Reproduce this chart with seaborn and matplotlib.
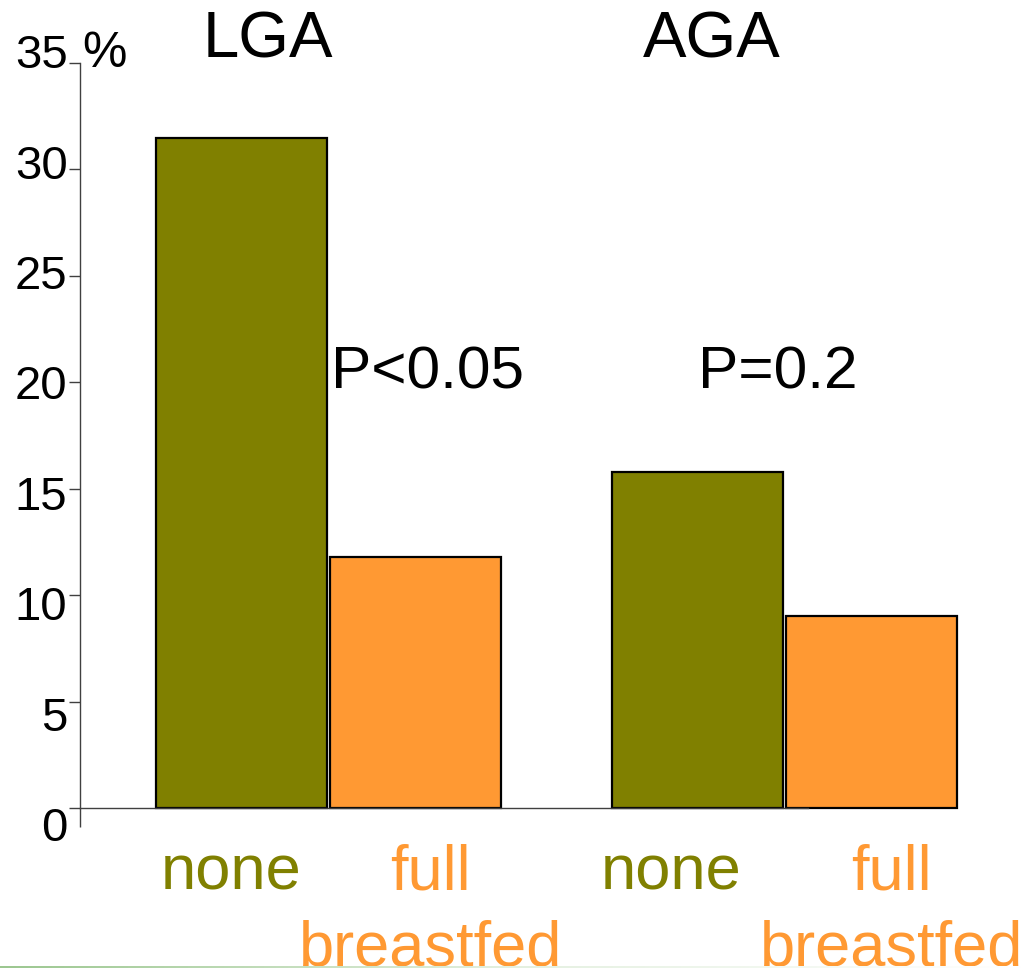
import numpy as np
import pandas as pd
import matplotlib
matplotlib.use("Agg")
import matplotlib.pyplot as plt
from matplotlib.transforms import ScaledTranslation
import seaborn as sns

# Share of infants (%) by birth-size group and feeding
groups = ["LGA", "LGA", "AGA", "AGA"]
feeding = ["none", "full", "none", "full"]
percent = [31.5, 11.8, 15.8, 9.0]

group_order = ["LGA", "AGA"]
p_values = ["P<0.05", "P=0.2"]
feeding_labels = {"none": ["none"], "full": ["full", "breastfed"]}
y_ticks = [0, 5, 10, 15, 20, 25, 30, 35]

OLIVE = "#808000"
ORANGE = "#FF9933"
AXIS_GREY = "#404040"

sns.set_theme(style="white")
plt.rcParams["font.family"] = ["Liberation Sans", "DejaVu Sans"]
plt.rcParams["text.color"] = "black"

df = pd.DataFrame({"group": groups, "feeding": feeding, "pct": percent})

fig = plt.figure(figsize=(10.25, 9.68), dpi=100)
ax = fig.add_axes([80 / 1025, 160 / 968, 728 / 1025, 745 / 968])

sns.barplot(data=df, x="group", y="pct", hue="feeding", order=group_order,
            hue_order=["none", "full"],
            palette={"none": OLIVE, "full": ORANGE},
            width=0.76, gap=0.013, edgecolor="black", linewidth=1.6,
            saturation=1, legend=False, ax=ax)
for patch in ax.patches:
    patch.set_clip_on(False)

ax.set_xlim(-0.545, 1.0515)
ax.set_ylim(0, 35)
ax.set_xlabel("")
ax.set_ylabel("")

# Axes: only left and bottom lines
sns.despine(ax=ax)
for side in ("left", "bottom"):
    ax.spines[side].set_color(AXIS_GREY)
    ax.spines[side].set_linewidth(1.0)

ax.set_yticks(y_ticks)
ax.set_yticklabels([str(v) for v in y_ticks])
ax.tick_params(axis="y", left=True, direction="out", length=8, width=1,
               color=AXIS_GREY, labelsize=34, pad=1, labelcolor="black")
ax.set_xticks([ax.get_xlim()[0]])
ax.set_xticklabels([""])
ax.tick_params(axis="x", bottom=True, direction="out", length=14, width=1,
               color=AXIS_GREY)

# Value labels sit on a slightly wider spacing than the tick marks
for lab, v in zip(ax.get_yticklabels(), y_ticks):
    dy_px = 16 - 0.79 * v
    lab.set_transform(lab.get_transform()
                      + ScaledTranslation(0, -dy_px / 100, fig.dpi_scale_trans))

# Unit sign next to the top of the axis
ax.text(0.003, 35 - 0.2, "%", fontsize=36, ha="left", va="baseline",
        transform=ax.get_yaxis_transform(), clip_on=False)

# Group titles and p-values
title_x = [-0.133, 0.840]
p_x = [0.216, 0.985]
for i, g in enumerate(group_order):
    ax.text(title_x[i], 35.27, g, fontsize=47, ha="center", va="baseline",
            clip_on=False)
    ax.text(p_x[i], 19.73, p_values[i], fontsize=43.5, ha="center",
            va="baseline", clip_on=False)

# Coloured feeding labels under the bars
label_offset = {"none": [-0.213, -0.249], "full": [0.223, 0.234]}
label_color = {"none": OLIVE, "full": ORANGE}
line_base = [-3.85, -7.40]
for i, g in enumerate(group_order):
    for f in ["none", "full"]:
        for k, line in enumerate(feeding_labels[f]):
            ax.text(i + label_offset[f][i], line_base[k], line, fontsize=45.5,
                    color=label_color[f], ha="center", va="baseline",
                    clip_on=False)

# Faint fading rule along the bottom edge
strip = fig.add_axes([0, 0, 1, 2 / 968])
grad = np.linspace(0, 1, 256)[None, :]
strip.imshow(grad, aspect="auto", cmap=matplotlib.colors.LinearSegmentedColormap.from_list(
    "fade", ["#9cc790", "#e4f0e0", "#ffffff"]), extent=(0, 1, 0, 1))
strip.set_axis_off()

fig.savefig("out.png", dpi=100, facecolor="white")
